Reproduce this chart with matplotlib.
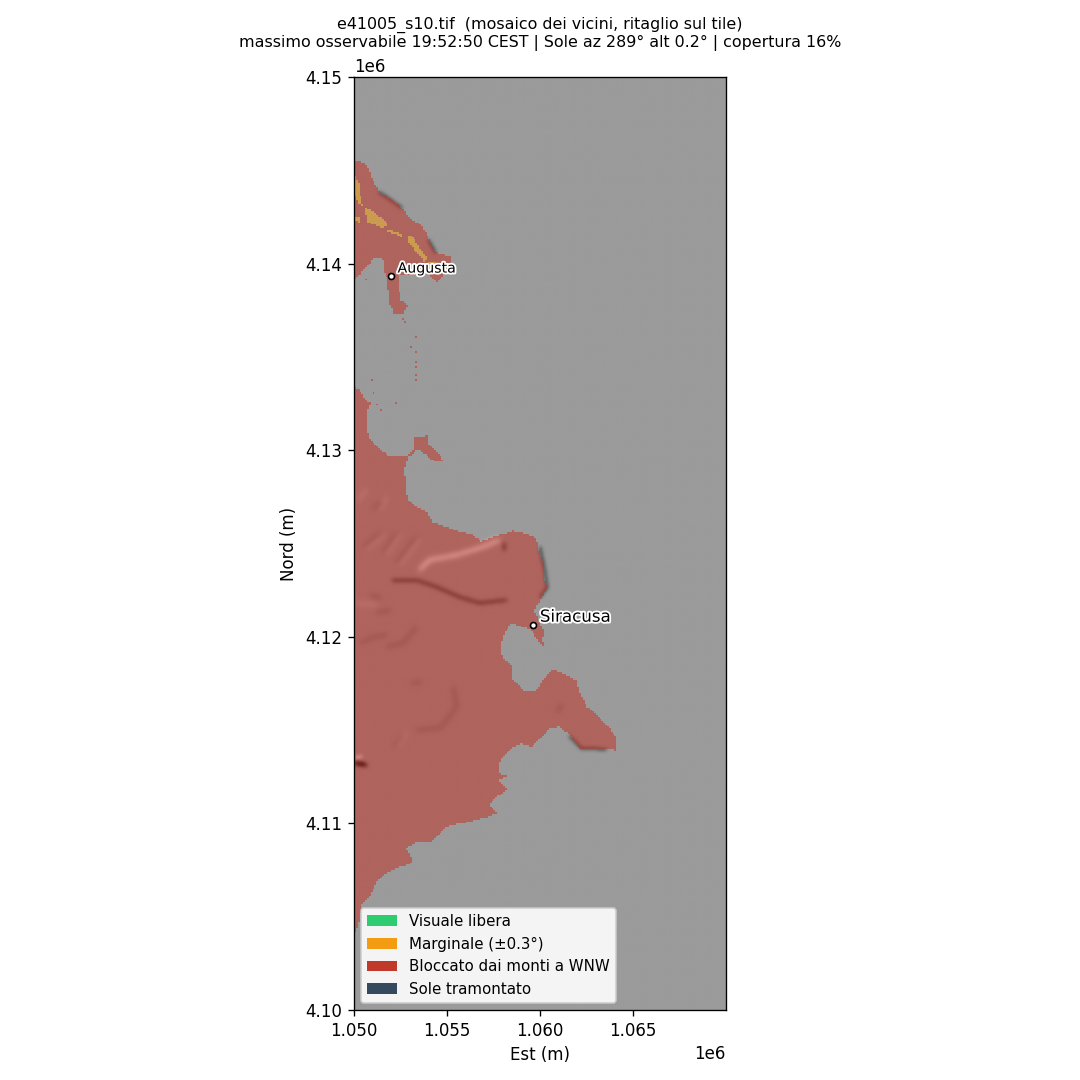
import numpy as np
import matplotlib
matplotlib.use("Agg")
import matplotlib.pyplot as plt
from matplotlib.patches import Patch
from matplotlib.path import Path
import matplotlib.patheffects as pe

# Colori delle classi
COL_FREE = "#2ecc71"
COL_MARG = "#f39c12"
COL_BLOCK = "#c0392b"
COL_SET = "#34495e"

# Costa sud (Est, Nord in km)
south_e = [1050.0, 1050.3, 1050.56, 1050.89, 1050.67, 1050.73, 1050.67, 1050.83, 1051.26, 1051.8,
           1052.82, 1052.88, 1053.25, 1053.2, 1053.95, 1054.06, 1054.87, 1054.33, 1053.41, 1052.93,
           1052.71, 1052.82, 1052.88, 1053.36, 1053.95, 1054.22, 1054.97, 1055.67, 1056.37, 1056.85,
           1057.45, 1058.2, 1058.52, 1059.27, 1059.81, 1059.97, 1060.24, 1060.24, 1060.4, 1059.97,
           1059.7, 1059.87, 1060.24, 1060.08, 1060.24, 1059.87, 1059.54, 1059.06, 1058.47, 1057.98,
           1057.88, 1057.98, 1058.47, 1058.52, 1059.06, 1059.81, 1060.08, 1060.62, 1061.21, 1061.96,
           1062.12, 1062.55, 1063.36, 1064.11, 1064.11, 1063.57, 1062.12, 1061.59, 1061.05, 1060.51,
           1060.08, 1059.54, 1059.0, 1058.52, 1058.09, 1057.77, 1057.82, 1058.2, 1057.71, 1058.25,
           1057.82, 1057.28, 1057.71, 1057.02, 1055.83, 1054.97, 1054.06, 1053.41, 1052.82, 1053.15,
           1052.88, 1052.45, 1051.75, 1051.21, 1050.83, 1050.46, 1050.3, 1050.19, 1050.0]
south_n = [4133.39, 4133.23, 4132.8, 4132.53, 4132.05, 4131.46, 4131.08, 4130.65, 4130.17, 4129.74,
           4129.69, 4129.74, 4130.12, 4130.71, 4130.76, 4130.28, 4129.42, 4129.42, 4130.06, 4129.64,
           4128.94, 4127.87, 4127.33, 4126.96, 4126.69, 4126.15, 4125.88, 4125.62, 4125.46, 4125.13,
           4125.35, 4125.56, 4125.67, 4125.51, 4125.3, 4124.49, 4123.74, 4123.04, 4122.62, 4121.87,
           4121.44, 4121.01, 4120.2, 4119.83, 4119.45, 4119.83, 4120.36, 4120.53, 4120.74, 4119.99,
           4119.29, 4118.86, 4118.49, 4117.69, 4117.15, 4117.1, 4117.58, 4118.22, 4118.06, 4117.69,
           4117.04, 4116.24, 4115.54, 4114.63, 4113.93, 4114.04, 4114.04, 4114.74, 4115.17, 4115.11,
           4114.58, 4114.09, 4114.31, 4114.04, 4113.67, 4113.24, 4112.7, 4112.54, 4112.33, 4111.84,
           4111.52, 4110.99, 4110.56, 4110.29, 4110.02, 4109.81, 4108.95, 4109.0, 4108.68, 4108.04,
           4107.77, 4107.66, 4107.34, 4106.86, 4106.06, 4105.73, 4104.98, 4104.4, 4104.18]

# Costa di Augusta
north_e = [1050.0, 1050.3, 1050.67, 1050.94, 1051.37, 1052.02, 1052.61, 1052.98, 1053.63, 1054.06,
           1054.44, 1055.24, 1055.13, 1054.92, 1054.49, 1053.9, 1052.45, 1052.34, 1052.55, 1052.88,
           1052.71, 1052.18, 1051.91, 1051.8, 1051.64, 1051.53, 1051.1, 1050.67, 1050.3, 1050.0]
north_n = [4145.55, 4145.55, 4145.28, 4144.64, 4143.84, 4143.41, 4142.98, 4142.44, 4142.07, 4141.26,
           4140.57, 4140.35, 4139.93, 4139.55, 4139.01, 4139.5, 4139.39, 4139.01, 4138.05, 4137.78,
           4137.35, 4137.25, 4137.94, 4139.12, 4139.55, 4140.35, 4140.35, 4139.82, 4139.39, 4139.17]

# Celle isolate
speck_e = [1052.23, 1051.26, 1051.42, 1051.1, 1050.94, 1053.36, 1053.36, 1053.36, 1053.36, 1053.36,
           1053.36, 1053.09, 1052.61, 1052.71, 1050.62]
speck_n = [4132.53, 4132.42, 4132.1, 4133.07, 4133.71, 4136.01, 4135.26, 4134.73, 4134.41, 4134.08,
           4133.76, 4135.53, 4137.08, 4136.82, 4139.17]

# Zone marginali
marg_a_e = [1050.0, 1050.24, 1050.3, 1050.46, 1050.19, 1050.0]
marg_a_n = [4144.75, 4144.37, 4143.78, 4143.14, 4143.25, 4143.78]
marg_b_e = [1050.0, 1050.3, 1050.3, 1050.0]
marg_b_n = [4142.55, 4142.44, 4142.18, 4142.34]
marg_c_e = [1050.56, 1051.1, 1051.75, 1051.8, 1051.48, 1050.73, 1050.67]
marg_c_n = [4143.03, 4142.77, 4142.18, 4142.07, 4141.91, 4142.23, 4142.5]
marg_d_e = [1051.8, 1052.61, 1052.55, 1051.8]
marg_d_n = [4141.85, 4141.59, 4141.43, 4141.75]
marg_e_e = [1052.88, 1053.15, 1053.9, 1053.79, 1053.41, 1052.88]
marg_e_n = [4141.53, 4141.43, 4140.3, 4140.09, 4140.57, 4141.16]
marg_f_e = [1053.95, 1054.7, 1054.44, 1053.95]
marg_f_n = [4140.09, 4140.03, 4139.82, 4139.93]
marginal = [(marg_a_e, marg_a_n), (marg_b_e, marg_b_n), (marg_c_e, marg_c_n),
            (marg_d_e, marg_d_n), (marg_e_e, marg_e_n), (marg_f_e, marg_f_n)]

# Rilievo: creste illuminate
light_main = [([1053.52, 1054.06, 1055.51, 1056.91, 1057.82], [4123.58, 4124.12, 4124.38, 4124.81, 4125.19])]
light_faint = [([1050.13, 1051.21], [4121.81, 4121.7]),
               ([1050.67, 1051.59], [4124.71, 4125.46]),
               ([1051.75, 1052.45], [4124.44, 4125.46]),
               ([1052.45, 1053.52], [4123.85, 4125.24]),
               ([1050.24, 1050.67], [4127.33, 4127.87]),
               ([1051.42, 1051.75], [4126.8, 4127.49]),
               ([1052.29, 1052.82], [4114.09, 4114.85])]
# versanti in ombra
dark_main = [([1052.07, 1053.36, 1054.44, 1055.67, 1056.75, 1058.2], [4123.04, 4123.04, 4122.67, 4122.13, 4121.81, 4121.97]),
             ([1058.09, 1058.09], [4125.03, 4124.65])]
dark_faint = [([1050.89, 1051.42], [4122.24, 4122.08]),
              ([1051.21, 1051.96], [4121.28, 4121.44]),
              ([1050.51, 1051.42], [4124.81, 4125.56]),
              ([1051.59, 1052.29], [4124.54, 4125.56]),
              ([1052.29, 1053.36], [4123.96, 4125.35]),
              ([1050.35, 1051.05, 1051.75], [4119.67, 4119.99, 4120.1]),
              ([1051.75, 1052.66, 1053.36], [4119.45, 4119.67, 4120.53]),
              ([1051.05, 1051.48], [4126.9, 4127.22]),
              ([1053.09, 1053.63], [4117.52, 4117.58]),
              ([1052.13, 1052.66], [4114.09, 4114.74]),
              ([1055.35, 1055.51, 1054.65, 1053.36], [4117.31, 4116.24, 4115.11, 4115.01]),
              ([1060.89, 1061.21], [4115.97, 4116.35])]
# ombre sulla costa
coast_shadow = [([1060.0, 1060.25, 1060.38, 1060.0], [4124.81, 4123.58, 4122.67, 4122.13]),
                ([1061.59, 1062.23, 1063.57], [4114.68, 4114.04, 4113.98]),
                ([1051.32, 1051.97, 1052.56], [4143.84, 4143.41, 4142.98]),
                ([1054.0, 1054.38], [4141.26, 4140.57])]
# rilievo isolato al bordo ovest
spot_dark = [([1050.03, 1050.67], [4113.24, 4113.13])]
spot_light = [([1050.1, 1050.4], [4113.5, 4113.6])]

# Citta
city_names = ["Augusta", "Siracusa"]
city_e = [1052.0, 1059.65]
city_n = [4139.34, 4120.63]
city_sizes = [8.5, 10]

legend_labels = ["Visuale libera", "Marginale (±0.3°)", "Bloccato dai monti a WNW", "Sole tramontato"]
legend_colors = [COL_FREE, COL_MARG, COL_BLOCK, COL_SET]

fig = plt.figure(figsize=(9, 9), dpi=120)
ax = fig.add_axes([353.7 / 1080, 70 / 1080, 372 / 1080, 933 / 1080])

# griglia a 100 m per le classi
cell = 0.1
e_c = np.arange(1050 + cell / 2, 1070, cell)
n_c = np.arange(4100 + cell / 2, 4150, cell)
ee, nn = np.meshgrid(e_c, n_c)
pts = np.column_stack([ee.ravel(), nn.ravel()])


def inside(e, n):
    return Path(np.column_stack([e, n])).contains_points(pts).reshape(ee.shape)


land = inside(south_e, south_n) | inside(north_e, north_n)
for e, n in zip(speck_e, speck_n):
    land[int((n - 4100) / cell), int((e - 1050) / cell)] = True

marg = np.zeros(land.shape, dtype=bool)
for e, n in marginal:
    marg |= inside(e, n)

overlay = np.zeros(land.shape + (4,))
overlay[land] = matplotlib.colors.to_rgba(COL_BLOCK, 0.55)
overlay[marg & land] = matplotlib.colors.to_rgba(COL_MARG, 0.55)

hs_cell = 0.05
hillshade = np.full((1000, 400), 155 / 255)


def relief(lines, delta, sigma):
    layer = np.zeros(hillshade.shape)
    for e, n in lines:
        e = np.array(e)
        n = np.array(n)
        t = np.r_[0, np.cumsum(np.hypot(np.diff(e), np.diff(n)))]
        s = np.arange(0, t[-1] + hs_cell / 2, hs_cell / 2)
        col = ((np.interp(s, t, e) - 1050) / hs_cell).astype(int).clip(0, 399)
        row = ((np.interp(s, t, n) - 4100) / hs_cell).astype(int).clip(0, 999)
        np.add.at(layer, (row, col), 1)
    k = np.arange(-int(4 * sigma), int(4 * sigma) + 1)
    kernel = np.exp(-k ** 2 / (2 * sigma ** 2))
    kernel /= kernel.sum()
    # solo la fascia toccata dalle linee
    rows = np.where(layer.any(axis=1))[0]
    cols = np.where(layer.any(axis=0))[0]
    r0, r1 = max(rows[0] - len(k), 0), min(rows[-1] + len(k), 999)
    c0, c1 = max(cols[0] - len(k), 0), min(cols[-1] + len(k), 399)
    sub = layer[r0:r1 + 1, c0:c1 + 1]
    sub = np.apply_along_axis(lambda v: np.convolve(v, kernel, mode="same"), 0, sub)
    sub = np.apply_along_axis(lambda v: np.convolve(v, kernel, mode="same"), 1, sub)
    peak = 2 / (np.sqrt(2 * np.pi) * sigma)
    hillshade[r0:r1 + 1, c0:c1 + 1] += delta * np.minimum(sub / peak, 1)


relief(light_main, 0.26, 3.0)
relief(light_faint, 0.07, 3.0)
relief(dark_main, -0.26, 2.4)
relief(dark_faint, -0.08, 3.0)
relief(coast_shadow, -0.2, 2.0)
relief(spot_dark, -0.55, 2.4)
relief(spot_light, 0.3, 2.0)

extent = [1050000, 1070000, 4100000, 4150000]
ax.imshow(hillshade, cmap="gray", vmin=0, vmax=1, origin="lower", extent=extent,
          interpolation="bilinear", interpolation_stage="rgba", aspect="auto", zorder=1)
ax.imshow(overlay, origin="lower", extent=extent,
          interpolation="nearest", aspect="auto", zorder=2)

halo = [pe.withStroke(linewidth=2.2, foreground="white")]
for name, e, n, fs in zip(city_names, city_e, city_n, city_sizes):
    ax.plot(e * 1000, n * 1000, "o", ms=3.6, mfc="white", mec="black", mew=1, zorder=4)
    ax.annotate(name, (e * 1000, n * 1000), xytext=(4, 2), textcoords="offset points",
                fontsize=fs, color="black", path_effects=halo, zorder=5)

ax.set_xlim(1050000, 1070000)
ax.set_ylim(4100000, 4150000)
ax.set_xticks([1050000, 1055000, 1060000, 1065000])
ax.set_yticks([4100000, 4110000, 4120000, 4130000, 4140000, 4150000])
ax.set_xlabel("Est (m)")
ax.set_ylabel("Nord (m)")
ax.set_title("e41005_s10.tif  (mosaico dei vicini, ritaglio sul tile)\n"
             "massimo osservabile 19:52:50 CEST | Sole az 289° alt 0.2° | copertura 16%",
             fontsize=9.5, pad=18)

handles = [Patch(facecolor=c, edgecolor="none", label=l) for c, l in zip(legend_colors, legend_labels)]
ax.legend(handles=handles, loc="lower left", fontsize=9, framealpha=0.9)

fig.savefig("out.png", dpi=120)
